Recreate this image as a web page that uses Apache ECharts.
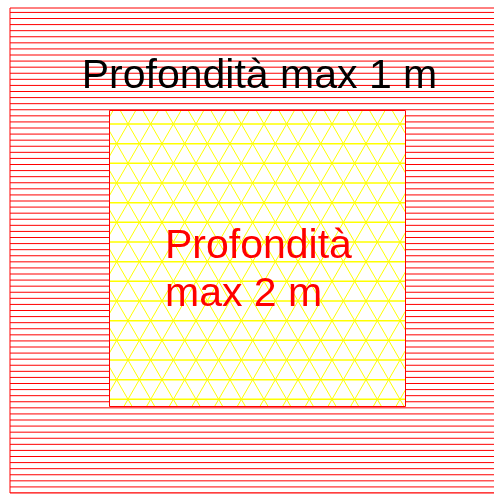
<!DOCTYPE html>
<html><head><meta charset="utf-8">
<script src="https://cdn.jsdelivr.net/npm/echarts@6/dist/echarts.min.js"></script>
<style>html,body{margin:0;padding:0;background:#fff;overflow:hidden}#c{width:494px;height:495px}</style>
</head><body><div id="c"></div>
<script>
// Zones of the pool (drawing units), outer shallow zone and inner deep zone
const zoneNames  = ['Profondità max 1 m', 'Profondità\nmax 2 m'];
const zoneLeft   = [10, 109.5];
const zoneTop    = [8, 110.5];
const zoneRight  = [500, 405.5];
const zoneBottom = [493, 406.5];
const zoneDepth  = [1, 2];

function hatchPattern() {
  const c = document.createElement('canvas');
  c.width = 8; c.height = 73;
  const g = c.getContext('2d');
  g.fillStyle = '#ff0000';
  for (let k = -14; k <= 14; k++) {
    const y = 18 + k * 73 / 12;
    if (y > -2 && y < 75) g.fillRect(0, y, 8, 1);
  }
  return c;
}
function latticePattern() {
  const W = 68, H = 118, dx = W / 3, dy = H / 6;
  const c = document.createElement('canvas');
  c.width = W; c.height = H;
  const g = c.getContext('2d');
  g.strokeStyle = '#ffff00';
  g.lineWidth = 1.5;
  for (let r = -1; r <= 6; r++) {
    const y = 6 + r * dy;
    g.beginPath(); g.moveTo(-2, y); g.lineTo(W + 2, y); g.stroke();
  }
  g.lineWidth = 1.0;
  const s = (dx / 2) / dy;
  for (let j = -10; j <= 10; j++) {
    const x0 = 14.667 + j * dx;
    g.beginPath(); g.moveTo(x0 + (-20 - 6) * s, -20); g.lineTo(x0 + (H + 20 - 6) * s, H + 20); g.stroke();
    g.beginPath(); g.moveTo(x0 - (-20 - 6) * s, -20); g.lineTo(x0 - (H + 20 - 6) * s, H + 20); g.stroke();
  }
  return c;
}
const fills = [
  { image: hatchPattern(), repeat: 'repeat' },
  { image: latticePattern(), repeat: 'repeat' }
];

const data = zoneNames.map((n, i) => ({ name: n, value: [zoneLeft[i], zoneTop[i], zoneRight[i], zoneBottom[i], zoneDepth[i]] }));

const chart = echarts.init(document.getElementById('c'), null, { renderer: 'canvas' });
chart.setOption({
  animation: false,
  backgroundColor: '#ffffff',
  grid: { left: 0, top: 0, right: 0, bottom: 0 },
  xAxis: { type: 'value', min: 0, max: 494, show: false },
  yAxis: { type: 'value', min: 0, max: 495, inverse: true, show: false },
  series: [{
    type: 'custom',
    silent: true,
    clip: false,
    data: data,
    renderItem: function (params, api) {
      const i = params.dataIndex;
      const p0 = api.coord([api.value(0), api.value(1)]);
      const p1 = api.coord([api.value(2), api.value(3)]);
      const x = Math.min(p0[0], p1[0]), y = Math.min(p0[1], p1[1]);
      const w = Math.abs(p1[0] - p0[0]), h = Math.abs(p1[1] - p0[1]);
      const children = [
        { type: 'rect', shape: { x: x, y: y, width: w, height: h }, style: { fill: '#ffffff' } },
        { type: 'rect', shape: { x: x, y: y, width: w, height: h }, style: { fill: fills[i], stroke: '#ff0000', lineWidth: 1 } }
      ];
      if (i === 0) {
        children.push({ type: 'text', style: { text: zoneNames[i], x: 259.5, y: 56.5, align: 'center', verticalAlign: 'top',
          font: '41px "Liberation Sans", Arial, sans-serif', lineHeight: 41, fill: '#000000' } });
      } else {
        children.push({ type: 'text', style: { text: zoneNames[i], x: x + 55.5, y: 222.5, align: 'left', verticalAlign: 'top',
          font: '41px "Liberation Sans", Arial, sans-serif', lineHeight: 48, fill: '#ff0000' } });
      }
      return { type: 'group', children: children };
    }
  }]
});
</script>
</body></html>
